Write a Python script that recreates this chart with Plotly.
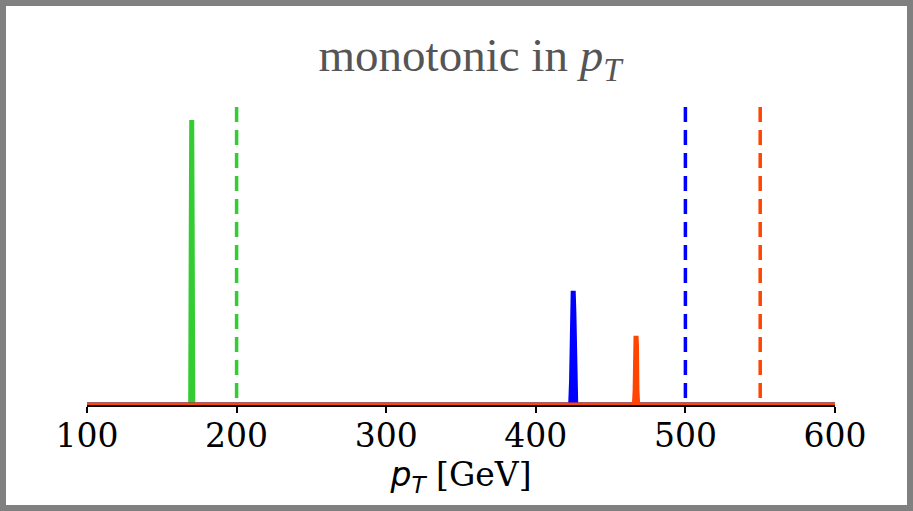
import plotly.graph_objects as go

# Peak curves (pT in GeV, normalised height)
green_x = [100, 169.3, 169.7, 170.0, 170.3, 170.7, 600]
green_y = [0.0, 0.0, 0.60, 0.956, 0.60, 0.0, 0.0]
blue_x = [100, 423.3, 423.9, 424.5, 425.0, 425.5, 426.1, 426.7, 600]
blue_y = [0.0, 0.0, 0.08, 0.30, 0.383, 0.30, 0.08, 0.0, 0.0]
orange_x = [100, 465.9, 466.4, 466.7, 467.0, 467.3, 467.6, 468.1, 600]
orange_y = [0.0, 0.0, 0.05, 0.20, 0.232, 0.20, 0.05, 0.0, 0.0]

# Dashed threshold lines (drawn top to bottom)
green_cut = 200
blue_cut = 500
orange_cut = 550
cut_height = [1, 0]

tick_vals = [100, 200, 300, 400, 500, 600]
tick_text = ["100", "200", "300", "400", "500", "600"]

GREEN = "#33cc33"
BLUE = "#0000ff"
ORANGE = "#ff4500"

fig = go.Figure()
for xs, ys, cut, col in [(green_x, green_y, green_cut, GREEN),
                         (blue_x, blue_y, blue_cut, BLUE),
                         (orange_x, orange_y, orange_cut, ORANGE)]:
    fig.add_trace(go.Scatter(x=xs, y=ys, mode="lines",
                             line=dict(color=col, width=5), hoverinfo="skip"))
    fig.add_trace(go.Scatter(x=[cut, cut], y=cut_height, mode="lines",
                             line=dict(color=col, width=3.5, dash="15px,8px"),
                             hoverinfo="skip"))

L, R, T, B = 87, 78, 107, 106
W, H = 913, 511
pw, ph = W - L - R, H - T - B

def px_x(p):
    return (p - L) / pw

def px_y(p):
    return (H - B - p) / ph

fig.add_shape(type="rect", xref="paper", yref="paper",
              x0=px_x(3), x1=px_x(910), y0=px_y(508), y1=px_y(3),
              line=dict(color="#808080", width=6), fillcolor="rgba(0,0,0,0)")

fig.update_layout(
    width=W, height=H,
    margin=dict(l=L, r=R, t=T, b=B),
    paper_bgcolor="white", plot_bgcolor="white",
    showlegend=False,
    title=dict(text="monotonic in <i>p</i><sub><i>T</i></sub>",
               x=470 / W, xanchor="center", y=1 - 55 / H, yanchor="middle",
               font=dict(family="Liberation Serif", size=47, color="#555555")),
    xaxis=dict(range=[100, 600], tickvals=tick_vals, ticktext=tick_text,
               showgrid=False, zeroline=False, showline=True,
               linecolor="black", linewidth=2, ticks="outside", ticklen=6,
               tickwidth=1.5, tickcolor="black", ticklabelstandoff=-6,
               tickfont=dict(family="DejaVu Serif", size=33, color="black"),
               title=dict(text="<span style='font-family:DejaVu Sans'><i>p</i><sub><i>T</i></sub></span> [GeV]",
                          font=dict(family="DejaVu Serif", size=33, color="black"),
                          standoff=2)),
    yaxis=dict(range=[0, 1], visible=False, showgrid=False, zeroline=False),
)

fig.write_html("out.html")
